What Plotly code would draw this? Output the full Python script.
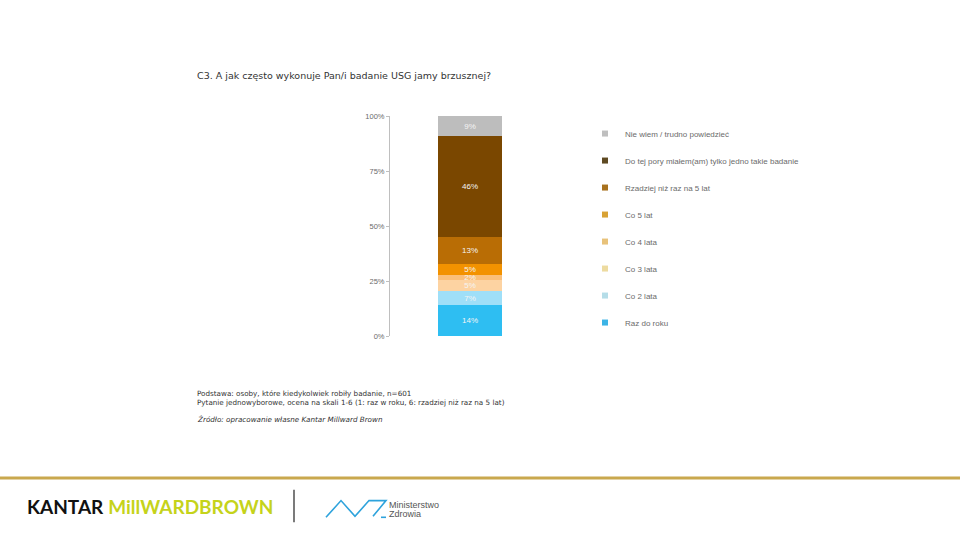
import plotly.graph_objects as go

W, H = 960, 540

categories = ["Raz do roku", "Co 2 lata", "Co 3 lata", "Co 4 lata", "Co 5 lat",
              "Rzadziej niż raz na 5 lat",
              "Do tej pory miałem(am) tylko jedno takie badanie",
              "Nie wiem / trudno powiedzieć"]
values = [14.1, 6.6, 4.8, 2.4, 4.8, 12.6, 45.6, 9.1]
labels = ["14%", "7%", "5%", "2%", "5%", "13%", "46%", "9%"]
colors = ["#2EBEF2", "#9FDFF8", "#FDD3A2", "#FBBF78", "#F39200", "#B96D05", "#7A4700", "#BDBDBD"]
legend_colors = ["#3CB4E6", "#B5DDE8", "#EDDBA0", "#E8C27A", "#D8A235", "#A8721E", "#5E4A22", "#BFBFBF"]
yticks = [0, 25, 50, 75, 100]
ytick_text = ["0%", "25%", "50%", "75%", "100%"]

title = "C3. A jak często wykonuje Pan/i badanie USG jamy brzusznej?"
note1 = "Podstawa: osoby, które kiedykolwiek robiły badanie, n=601"
note2 = "Pytanie jednowyborowe, ocena na skali 1-6 (1: raz w roku, 6: rzadziej niż raz na 5 lat)"
note3 = "Źródło: opracowanie własne Kantar Millward Brown"


def px(x):
    return x / W


def py(y):
    return 1 - y / H


fig = go.Figure()
for cat, v, lab, col in zip(categories, values, labels, colors):
    fig.add_trace(go.Bar(
        x=["USG"], y=[v], name=cat, marker=dict(color=col, line=dict(width=0)),
        text=[lab], textposition="inside", insidetextanchor="middle",
        textfont=dict(color="#F4F4F4", size=8, family="Liberation Sans"),
        constraintext="none", showlegend=False, hoverinfo="name+y",
    ))

# legend proxies (top to bottom)
for i in reversed(range(len(categories))):
    fig.add_trace(go.Scatter(
        x=[None], y=[None], mode="markers", name=categories[i],
        marker=dict(symbol="square", size=6, color=legend_colors[i]),
        legendgroup=f"g{i}", showlegend=True,
    ))

fig.update_layout(
    width=W, height=H, margin=dict(l=0, r=0, t=0, b=0),
    paper_bgcolor="white", plot_bgcolor="white",
    barmode="stack", bargap=0.6,
    uniformtext=dict(mode="show", minsize=8),
    font=dict(family="Liberation Sans", color="#595959"),
    xaxis=dict(domain=[px(390), px(550)], visible=False),
    yaxis=dict(domain=[py(338), py(114)], range=[0, 100], tickvals=yticks,
               ticktext=ytick_text, showline=True, linecolor="#BFBFBF", linewidth=1,
               ticks="outside", ticklen=3, tickcolor="#BFBFBF", showgrid=False,
               zeroline=False, tickfont=dict(size=7.5, color="#6B6B6B")),
    legend=dict(x=px(585), y=py(117), xanchor="left", yanchor="top",
                font=dict(size=8, color="#6B6B6B"), tracegroupgap=8,
                traceorder="grouped", bgcolor="rgba(0,0,0,0)"),
    showlegend=True,
)

ann = []
ann.append(dict(x=px(195), y=py(73), xref="paper", yref="paper", text=title,
                showarrow=False, xanchor="left", yanchor="middle",
                font=dict(size=9.5, color="#333333", family="DejaVu Sans")))
for t, yy, it in [(note1, 396, False), (note2, 405, False), (note3, 423, True)]:
    txt = f"<i>{t}</i>" if it else t
    ann.append(dict(x=px(195), y=py(yy), xref="paper", yref="paper", text=txt,
                    showarrow=False, xanchor="left", yanchor="middle",
                    font=dict(size=7.2, color="#333333", family="DejaVu Sans")))
ann.append(dict(x=px(25), y=py(511), xref="paper", yref="paper",
                text="<b>KANTAR</b> <b><span style='color:#C5D31B'>MillWARDBROWN</span></b>",
                showarrow=False, xanchor="left", yanchor="middle",
                font=dict(size=19, color="#111111", family="Lato")))
ann.append(dict(x=px(387), y=py(509), xref="paper", yref="paper", text="Ministerstwo",
                showarrow=False, xanchor="left", yanchor="middle",
                font=dict(size=9, color="#555555", family="Liberation Sans")))
ann.append(dict(x=px(387), y=py(519), xref="paper", yref="paper", text="Zdrowia",
                showarrow=False, xanchor="left", yanchor="middle",
                font=dict(size=9, color="#555555", family="Liberation Sans")))
fig.update_layout(annotations=ann)

shapes = []
shapes.append(dict(type="line", xref="paper", yref="paper", x0=0, x1=1,
                   y0=py(482), y1=py(482), line=dict(color="#C9A84E", width=3)))
shapes.append(dict(type="line", xref="paper", yref="paper", x0=px(294), x1=px(294),
                   y0=py(494), y1=py(527), line=dict(color="#222222", width=1.2)))
pts = [(326, 522), (341, 505), (355, 521), (369, 505), (386, 505), (373, 521)]
path = "M " + " L ".join(f"{px(a):.5f},{py(b):.5f}" for a, b in pts)
shapes.append(dict(type="path", xref="paper", yref="paper", path=path,
                   line=dict(color="#2EA3DC", width=1.6)))
shapes.append(dict(type="line", xref="paper", yref="paper", x0=px(381), x1=px(386),
                   y0=py(522), y1=py(522), line=dict(color="#2EA3DC", width=1.6)))
fig.update_layout(shapes=shapes)

fig.write_html("out.html")
